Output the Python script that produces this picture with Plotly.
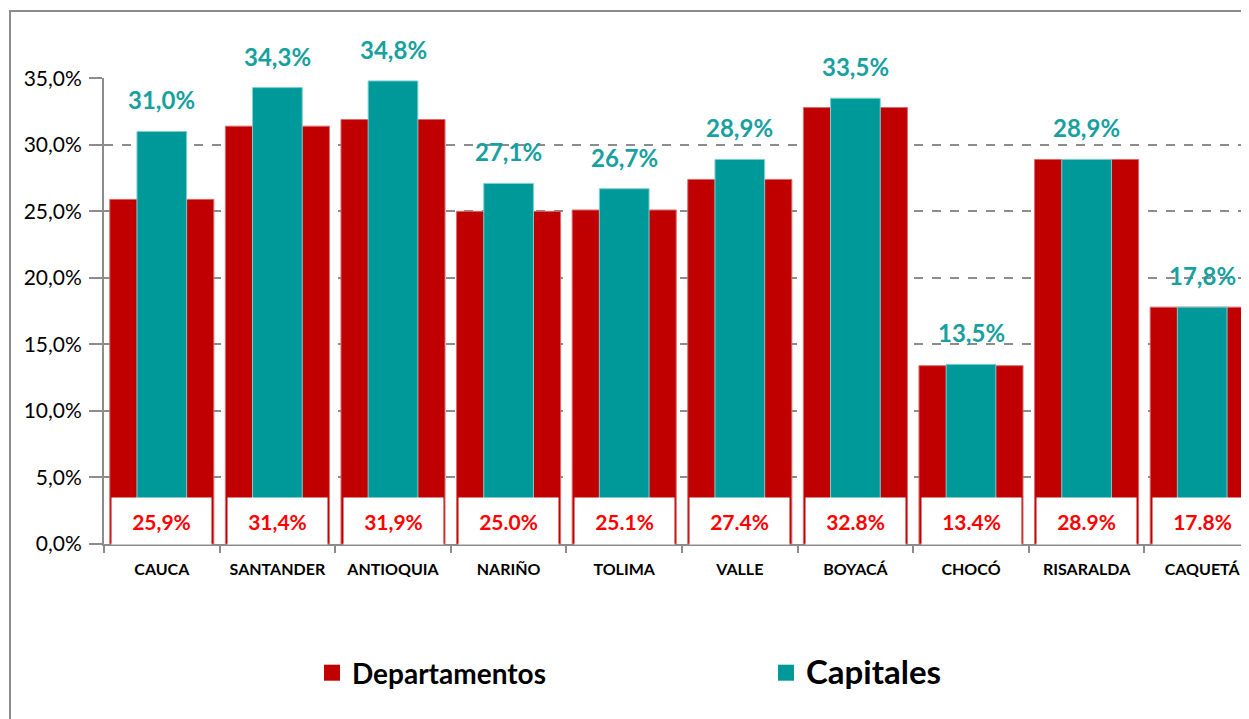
import plotly.graph_objects as go

categories = ["CAUCA", "SANTANDER", "ANTIOQUIA", "NARIÑO", "TOLIMA",
              "VALLE", "BOYACÁ", "CHOCÓ", "RISARALDA", "CAQUETÁ"]
departamentos = [0.259, 0.314, 0.319, 0.250, 0.251, 0.274, 0.328, 0.134, 0.289, 0.178]
capitales = [0.310, 0.343, 0.348, 0.271, 0.267, 0.289, 0.335, 0.135, 0.289, 0.178]
dep_labels = ["25,9%", "31,4%", "31,9%", "25.0%", "25.1%", "27.4%", "32.8%", "13.4%", "28.9%", "17.8%"]
cap_labels = ["31,0%", "34,3%", "34,8%", "27,1%", "26,7%", "28,9%", "33,5%", "13,5%", "28,9%", "17,8%"]
y_ticks = [0, 0.05, 0.10, 0.15, 0.20, 0.25, 0.30, 0.35]

RED = "#C00000"
TEAL = "#009999"
FONT = "Lato"

# page body adds an 8px offset
OFF = 8
W, H = 1249 - OFF, 719
L, T = 104 - OFF, 78 - OFF
plot_bottom = 544 - OFF
R = 0
B = H - plot_bottom
plot_w = W - L - R
plot_h = plot_bottom - T
cat_px = 115.6

fig = go.Figure()
fig.add_trace(go.Bar(
    x=categories, y=departamentos, name="Departamentos", showlegend=False,
    marker=dict(color=RED, line=dict(color="#D9696B", width=1)), width=0.9,
    hoverinfo="skip"))
fig.add_trace(go.Bar(
    x=categories, y=capitales, name="Capitales", showlegend=False,
    marker=dict(color=TEAL, line=dict(color="#7FCFCF", width=1)), width=0.43,
    hoverinfo="skip"))
# legend entries (larger square swatches)
fig.add_trace(go.Scatter(
    x=[None], y=[None], mode="markers", name="<b>Departamentos</b>",
    marker=dict(symbol="square", size=18, color=RED), hoverinfo="skip"))
fig.add_trace(go.Scatter(
    x=[None], y=[None], mode="markers",
    name="<span style='font-size:33px'><b>Capitales</b></span>",
    marker=dict(symbol="square", size=18, color=TEAL), hoverinfo="skip"))

annotations = []
for c, v, t in zip(categories, capitales, cap_labels):
    annotations.append(dict(x=c, y=v, xref="x", yref="y", text="<b>%s</b>" % t,
                            showarrow=False, yanchor="bottom", yshift=15,
                            font=dict(family=FONT, size=24, color="#17A0A0")))
for c, t in zip(categories, dep_labels):
    annotations.append(dict(x=c, y=0, xref="x", yref="y", text="<b>%s</b>" % t,
                            showarrow=False, yanchor="bottom", yshift=-1,
                            bgcolor="white", width=99, height=46, borderpad=0,
                            valign="middle",
                            font=dict(family=FONT, size=21, color="#FF0000")))

fig.update_layout(
    width=W, height=H,
    margin=dict(l=L, r=R, t=T, b=B, pad=0),
    paper_bgcolor="white", plot_bgcolor="white",
    barmode="overlay",
    separators=",.",
    annotations=annotations,
    showlegend=True,
    legend=dict(orientation="h", x=(312 - OFF - L) / plot_w, xanchor="left",
                y=-(673 - 544) / plot_h, yanchor="middle",
                entrywidth=409, entrywidthmode="pixels",
                itemsizing="trace",
                font=dict(family=FONT, size=28, color="black"),
                itemclick=False, itemdoubleclick=False),
    font=dict(family=FONT, color="black"),
    shapes=[dict(type="rect", xref="paper", yref="paper",
                 x0=(10 - 104) / plot_w, x1=1.05,
                 y0=-0.5, y1=(544 - 11) / plot_h,
                 line=dict(color="#8C8C8C", width=2), layer="below")],
)

fig.update_xaxes(
    type="category", range=[-0.5, -0.5 + plot_w / cat_px],
    tickson="boundaries", ticks="outside", ticklen=7, tickcolor="#8C8C8C",
    tickwidth=2,
    showline=True, linecolor="#8C8C8C", linewidth=2,
    tickfont=dict(family=FONT, size=16, color="black"),
    ticklabelstandoff=10,
    tickprefix="<b>", ticksuffix="</b>",
    showgrid=False,
)
fig.update_yaxes(
    range=[0, 0.3502], tickvals=y_ticks, tickformat=".1%",
    ticks="outside", ticklen=13, tickcolor="#8C8C8C", tickwidth=2,
    showline=True, linecolor="#8C8C8C", linewidth=2,
    showgrid=True, gridcolor="#8C8C8C", gridwidth=2, griddash="dash",
    zeroline=False,
    tickfont=dict(family=FONT, size=21, color="black"),
    ticklabelstandoff=3,
)

fig.write_html("out.html")
